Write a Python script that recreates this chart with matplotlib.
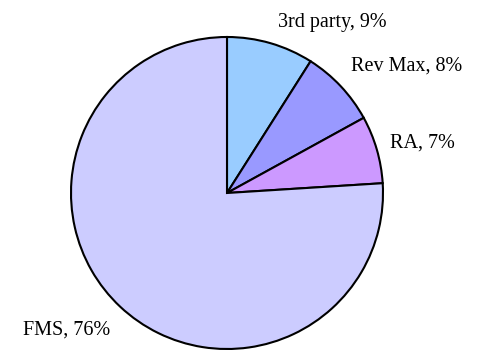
import matplotlib.pyplot as plt

labels = ['3rd party', 'Rev Max', 'RA', 'FMS']
shares = [9, 8, 7, 76]
colors = ['#99CCFF', '#9999FF', '#CC99FF', '#CCCCFF']

plt.rcParams['font.family'] = ['Liberation Serif', 'DejaVu Serif']

fig = plt.figure(figsize=(4.85, 3.5), dpi=100)
ax = fig.add_axes([0, 0, 1, 1])

ax.pie(shares, colors=colors, startangle=90, counterclock=False,
       center=(227, 157), radius=156, frame=True,
       wedgeprops=dict(edgecolor='black', linewidth=1.5))
ax.set_xlim(0, 485)
ax.set_ylim(0, 350)
ax.set_aspect('equal')
ax.axis('off')

# label positions (pixels from bottom-left)
label_pos = [(332, 328), (407, 284), (422, 207), (67, 20)]
for name, pct, (x, y) in zip(labels, shares, label_pos):
    ax.text(x, y, f'{name}, {pct}%', ha='center', va='center', fontsize=14.5)

fig.savefig('out.png', dpi=100)
